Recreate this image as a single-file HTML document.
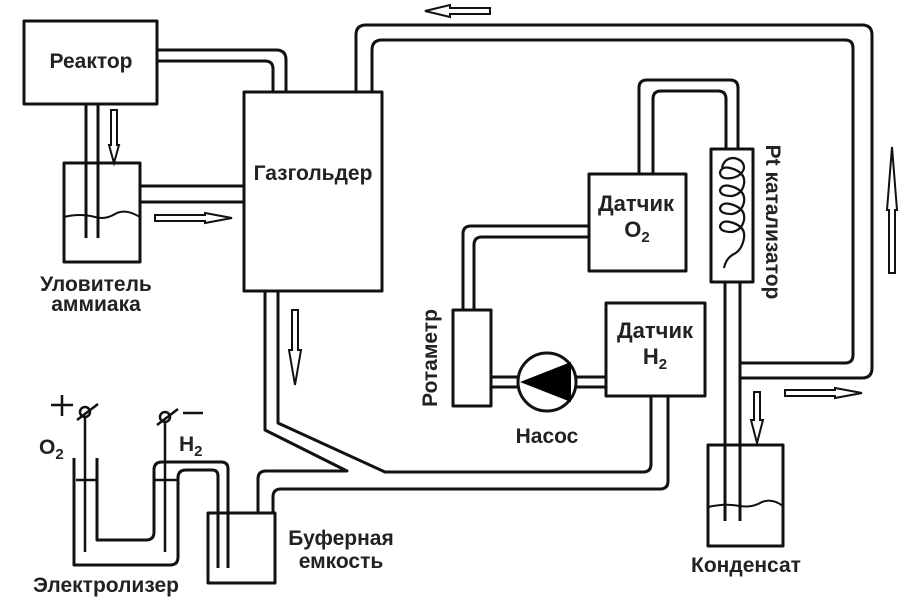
<!DOCTYPE html>
<html><head><meta charset="utf-8"><style>
html,body{margin:0;padding:0;background:#fff;}
svg{display:block;}
text{font-family:"Liberation Sans",Arial,sans-serif;font-weight:bold;fill:#222;}
</style></head><body>
<svg width="910" height="607" viewBox="0 0 910 607" xmlns="http://www.w3.org/2000/svg">
<g fill="none" stroke="#111" stroke-width="3" stroke-linejoin="round">
<rect x="24" y="21" width="133" height="83"/>
<rect x="244" y="92" width="138" height="199"/>
<rect x="64" y="163" width="76" height="99"/>
<rect x="589" y="174" width="97" height="97"/>
<rect x="711" y="149" width="42" height="133"/>
<rect x="453" y="310" width="38" height="96"/>
<rect x="606" y="303" width="99" height="93"/>
<rect x="708" y="445" width="75" height="101"/>
<rect x="208" y="513" width="67" height="70"/>
<path d="M157,50 H276 Q286,50 286,60 V92"/>
<path d="M157,61 H265 Q273,61 273,69 V92"/>
<path d="M86,104 V238 M98,104 V238"/>
<path d="M64,217 Q80,213 95,217 Q105,220 115,214 Q125,208 140,217" stroke-width="2"/>
<path d="M140,186 H244 M140,202 H244"/>
<path d="M356,92 V35 Q356,25 366,25 H862 Q872,25 872,35 V368 Q872,378 862,378 H740"/>
<path d="M372,92 V50 Q372,40 382,40 H845 Q853,40 853,48 V355 Q853,363 845,363 H740"/>
<path d="M639,174 V88 Q639,80 647,80 H730 Q738,80 738,88 V149"/>
<path d="M653,174 V99 Q653,91 661,91 H718 Q726,91 726,99 V149"/>
<path d="M725,282 V521 M740,282 V521"/>
<path d="M708,507 Q725,503 740,506 Q752,508 762,502 Q772,498 783,506" stroke-width="2"/>
<path d="M722,168 Q724,158 734,158 Q744,160 744,168 Q742,176 732,178 Q720,180 720,172 Q722,166 730,168 Q746,172 744,184 Q742,194 732,196 Q720,196 720,190 Q722,184 730,186 Q746,190 744,202 Q742,212 732,214 Q720,214 720,208 Q722,202 730,204 Q746,208 744,220 Q742,230 732,232 Q720,232 720,226 Q722,220 730,222 Q746,226 744,238 Q742,250 734,254 Q726,258 724,268" stroke-width="2.2"/>
<path d="M589,226 H471 Q463,226 463,234 V310"/>
<path d="M589,237 H482 Q474,237 474,245 V310"/>
<path d="M491,377 H519 M491,387 H519 M575,377 H606 M575,387 H606"/>
<circle cx="547" cy="382" r="29"/>
<path d="M278,291 V423 L385,472 H643 Q651,472 651,464 V396"/>
<path d="M265,291 V430 L347,471 H266 Q258,471 258,479 V513"/>
<path d="M273,513 V497 Q273,489 281,489 H660 Q668,489 668,481 V396"/>
<path d="M74,458 V565 H170 Q178,565 178,557 V478 Q178,470 186,470 H212 Q218,470 218,476 V568"/>
<path d="M97,458 V540 H146 Q154,540 154,532 V470 Q154,462 162,462 H221 Q228,462 228,469 V568"/>
<path d="M76,480 H97 M154,480 H178" stroke-width="2.5"/>
<path d="M85,417 V552 M165,422 V552" stroke-width="2.5"/>
<circle cx="85" cy="412" r="5" stroke-width="2.5"/>
<circle cx="165" cy="417" r="5" stroke-width="2.5"/>
<path d="M77,420 L98,404 M157,425 L178,409 M51,405 H73 M62,395 V416 M183,413 H203" stroke-width="2.5"/>
</g>
<polygon points="520,382 571,362 571,402" fill="#000"/>
<g fill="#fff" stroke="#111" stroke-width="2">
<polygon points="111,110 117,110 117,145 119,145 114,163 109,145 111,145"/>
<polygon points="155,215 205,215 205,213 232,218 205,223 205,221 155,221"/>
<polygon points="292,310 298,310 298,350 301,350 295,385 289,350 292,350"/>
<polygon points="490,8 450,8 450,5 425,11 450,17 450,14 490,14"/>
<polygon points="889,273 895,273 895,210 897,210 892,147 887,210 889,210"/>
<polygon points="785,390 835,390 835,388 862,393 835,398 835,396 785,396"/>
<polygon points="754,392 760,392 760,420 763,420 757,443 751,420 754,420"/>
</g>
<g font-size="21">
<text x="91" y="68" text-anchor="middle">Реактор</text>
<text x="313" y="180" text-anchor="middle">Газгольдер</text>
<text x="96" y="291" text-anchor="middle">Уловитель</text>
<text x="96" y="311" text-anchor="middle">аммиака</text>
<text x="636" y="211" font-size="22" text-anchor="middle">Датчик</text>
<text x="637" y="237" font-size="22" text-anchor="middle">O<tspan font-size="15" dy="5">2</tspan></text>
<text x="655" y="338" font-size="22" text-anchor="middle">Датчик</text>
<text x="655" y="364" font-size="22" text-anchor="middle">H<tspan font-size="15" dy="5">2</tspan></text>
<text x="547" y="443" text-anchor="middle">Насос</text>
<text transform="translate(437,358) rotate(-90)" text-anchor="middle">Ротаметр</text>
<text transform="translate(766,222) rotate(90)" text-anchor="middle">Pt катализатор</text>
<text x="746" y="572" text-anchor="middle">Конденсат</text>
<text x="341" y="545" text-anchor="middle">Буферная</text>
<text x="341" y="568" text-anchor="middle">емкость</text>
<text x="106" y="592" text-anchor="middle">Электролизер</text>
<text x="39" y="454">O<tspan font-size="15" dy="5">2</tspan></text>
<text x="179" y="451">H<tspan font-size="15" dy="5">2</tspan></text>
</g>
</svg>
</body></html>
